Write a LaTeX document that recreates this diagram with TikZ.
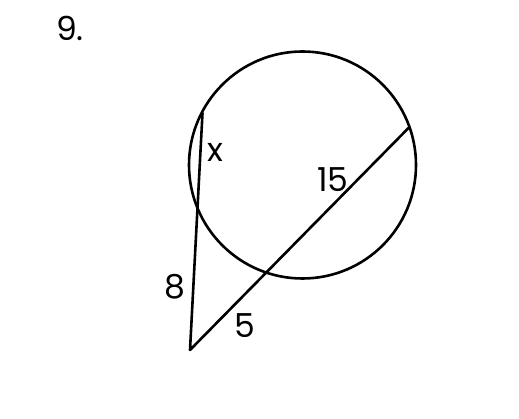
\documentclass[tikz,border=0pt]{standalone}
\usepackage{fontspec}
\setmainfont{Poppins}
\begin{document}
\begin{tikzpicture}[x=1pt,y=-1pt,
  geo/.style={line width=2.6pt,black,line cap=round,line join=round},
  lbl/.style={font=\fontsize{33}{33}\selectfont\fontseries{l}, inner sep=0pt}]
\useasboundingbox (0,0) rectangle (519,419);
\coordinate (O) at (302.5,165);
\draw[geo] (O) circle (113.5);
\coordinate (P) at (190,350);
\coordinate (A) at (202.5,113);
\coordinate (B) at (408.5,128);
\draw[geo] (A) -- (P) -- (B);
\node[lbl] (n9) at (70,28) {9.};
\node[lbl] (nx) at (215,152) {x};
\node[lbl] (n15) at (333,180) {15};
\node[lbl] (n8) at (175,287) {8};
\node[lbl] (n5) at (245,326) {5};
\end{tikzpicture}
\end{document}
